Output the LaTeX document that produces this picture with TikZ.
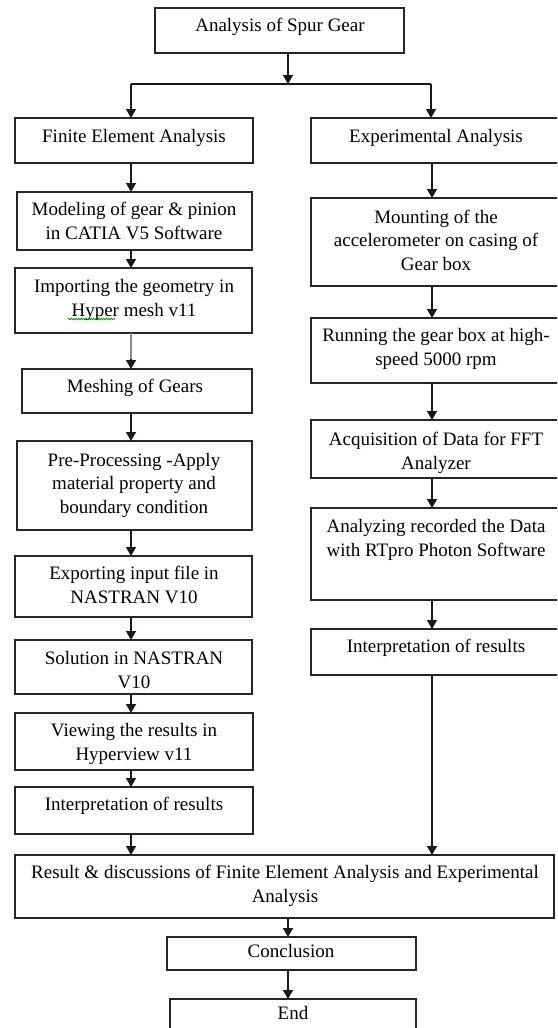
\documentclass[tikz,border=0pt]{standalone}
\usepackage{fontspec}
\setmainfont{Liberation Serif}
\usetikzlibrary{arrows.meta,fit,calc,decorations.pathmorphing}
\begin{document}
\begin{tikzpicture}[x=1pt,y=-1pt,
 box/.style={draw=black!85, line width=1.4pt, inner sep=0pt, outer sep=0pt},
 txt/.style={anchor=base, align=center, inner sep=0pt, font=\fontsize{19}{23.5}\selectfont},
 arr/.style={draw=black!90, line width=1.4pt, -{Triangle[width=10pt,length=9pt]}},
 grayln/.style={draw=black!45, line width=1.6pt},
 ln/.style={draw=black!90, line width=1.4pt},
 squig/.style={draw=green!55!black, line width=0.8pt, decorate, decoration={snake,amplitude=0.7pt,segment length=2.5pt}}]
\useasboundingbox (0,0) rectangle (557,1028);
\clip (0,0) rectangle (557,1028);
\fill[white] (0,0) rectangle (557,1028);

% boxes
\node[box, fit={(155,8)(404,53)}] (top) {};
\node[box, fit={(15,118)(253,163)}] (fea) {};
\node[box, fit={(311,118)(562,163)}] (exp) {};
\node[box, fit={(17,192)(252,250)}] (mod) {};
\node[box, fit={(15,268)(252,333)}] (imp) {};
\node[box, fit={(22,369)(252,413)}] (mes) {};
\node[box, fit={(17,441)(252,530)}] (pre) {};
\node[box, fit={(15,556)(252,617)}] (ept) {};
\node[box, fit={(15,640)(252,694)}] (sol) {};
\node[box, fit={(15,713)(253,770)}] (vie) {};
\node[box, fit={(15,787)(253,834)}] (intl) {};
\node[box, fit={(15,855)(554,918)}] (res) {};
\node[box, fit={(167,937)(416,970)}] (con) {};
\node[box, fit={(170,999)(416,1045)}] (fin) {};
\node[box, fit={(311,198)(562,286)}] (mnt) {};
\node[box, fit={(311,318)(562,383)}] (run) {};
\node[box, fit={(311,420)(562,478)}] (acq) {};
\node[box, fit={(311,508)(562,600)}] (ana) {};
\node[box, fit={(311,629)(562,675)}] (intr) {};

% texts (anchor = baseline of the last line)
\node[txt] (top-t) at (280,31) {Analysis of Spur Gear};
\node[txt] (fea-t) at (134,142) {Finite Element Analysis};
\node[txt] (exp-t) at (436,142) {Experimental Analysis};
\node[txt] (mod-t) at (134,239) {Modeling of gear \& pinion\\in CATIA V5 Software};
\node[txt] (imp-t) at (134,316) {Importing the geometry in\\Hyper mesh v11};
\node[txt] (mes-t) at (135,392) {Meshing of Gears};
\node[txt] (pre-t) at (134,513) {Pre-Processing -Apply\\material property and\\boundary condition};
\node[txt] (ept-t) at (134,603) {Exporting input file in\\NASTRAN V10};
\node[txt] (sol-t) at (134,688) {Solution in NASTRAN\\V10};
\node[txt] (vie-t) at (134,760) {Viewing the results in\\Hyperview v11};
\node[txt] (intl-t) at (134,810) {Interpretation of results};
\node[txt] (res-t) at (285,902) {Result \& discussions of Finite Element Analysis and Experimental\\Analysis};
\node[txt] (con-t) at (291,957) {Conclusion};
\node[txt] (fin-t) at (293,1019) {End};
\node[txt] (mnt-t) at (436,270) {Mounting of the\\accelerometer on casing of\\Gear box};
\node[txt] (run-t) at (436,365) {Running the gear box at high-\\speed 5000 rpm};
\node[txt] (acq-t) at (436,469) {Acquisition of Data for FFT\\Analyzer};
\node[txt] (ana-t) at (436,556) {Analyzing recorded the Data\\with RTpro Photon Software};
\node[txt] (intr-t) at (436,652) {Interpretation of results};

\draw[squig] (68,319) -- (115,319);

% connectors
\coordinate (j) at (288,84);
\coordinate (jl) at (131,84);
\coordinate (jr) at (431,84);
\coordinate (cl) at (131,0);
\coordinate (cr) at (432,0);
\draw[arr] (top.south -| j) -- (j);
\draw[ln] (jl) -- (jr);
\draw[arr] (jl) -- (jl |- fea.north);
\draw[arr] (jr) -- (jr |- exp.north);

\draw[arr] (fea.south -| cl) -- (mod.north -| cl);
\draw[arr] (mod.south -| cl) -- (imp.north -| cl);
\draw[arr] (imp.south -| cl) -- (mes.north -| cl);
\draw[grayln] (imp.south -| cl) -- ($(mes.north -| cl)+(0,-10)$);
\draw[arr] (mes.south -| cl) -- (pre.north -| cl);
\draw[arr] (pre.south -| cl) -- (ept.north -| cl);
\draw[arr] (ept.south -| cl) -- (sol.north -| cl);
\draw[arr] (sol.south -| cl) -- (vie.north -| cl);
\draw[arr] (vie.south -| cl) -- (intl.north -| cl);
\draw[arr] (intl.south -| cl) -- (res.north -| cl);

\draw[arr] (exp.south -| cr) -- (mnt.north -| cr);
\draw[arr] (mnt.south -| cr) -- (run.north -| cr);
\draw[arr] (run.south -| cr) -- (acq.north -| cr);
\draw[arr] (acq.south -| cr) -- (ana.north -| cr);
\draw[arr] (ana.south -| cr) -- (intr.north -| cr);
\draw[arr] (intr.south -| cr) -- (res.north -| cr);

\draw[arr] (res.south -| j) -- (con.north -| j);
\draw[arr] (con.south -| j) -- (fin.north -| j);
\end{tikzpicture}
\end{document}
